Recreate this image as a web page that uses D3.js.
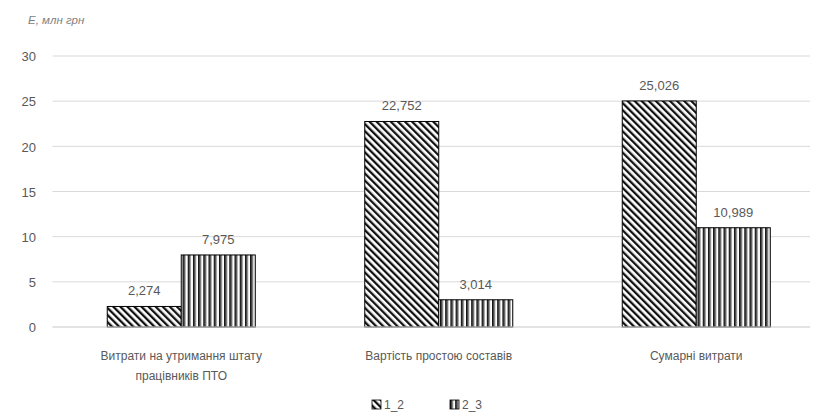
<!DOCTYPE html>
<html>
<head>
<meta charset="utf-8">
<script src="https://cdn.jsdelivr.net/npm/d3@7/dist/d3.min.js"></script>
<style>
  html, body { margin: 0; padding: 0; background: #fff; }
  svg { display: block; font-family: "Liberation Sans", Arial, sans-serif; }
</style>
</head>
<body>
<svg id="chart" width="814" height="414"></svg>
<script>
// Cost categories (two-line labels) and the two scenario series
const categories = [
  ["Витрати на утримання штату", "працівників ПТО"],
  ["Вартість простою составів"],
  ["Сумарні витрати"]
];
const seriesNames = ["1_2", "2_3"];
const values12 = [2.274, 22.752, 25.026];
const values23 = [7.975, 3.014, 10.989];
const yTicks = [0, 5, 10, 15, 20, 25, 30];
const yTitle = "Е, млн грн";

const svg = d3.select("#chart");
const margin = { left: 52.5, right: 825, top: 56, bottom: 327 };

// Fill patterns: wide downward diagonal and dark vertical stripes
const defs = svg.append("defs");
const diag = defs.append("pattern")
  .attr("id", "pat-diag").attr("patternUnits", "userSpaceOnUse")
  .attr("width", 5).attr("height", 5)
  .attr("patternTransform", "rotate(-45)");
diag.append("rect").attr("width", 5).attr("height", 5).attr("fill", "#fff");
diag.append("rect").attr("x", 0).attr("width", 2.3).attr("height", 5).attr("fill", "#111");

const vert = defs.append("pattern")
  .attr("id", "pat-vert").attr("patternUnits", "userSpaceOnUse")
  .attr("width", 5.2).attr("height", 10);
vert.append("rect").attr("width", 5.2).attr("height", 10).attr("fill", "#fff");
vert.append("rect").attr("x", 0).attr("width", 1.6).attr("height", 10).attr("fill", "#111");
vert.append("rect").attr("x", 1.6).attr("width", 1.4).attr("height", 10).attr("fill", "#666");

const fills = ["url(#pat-diag)", "url(#pat-vert)"];

const x0 = d3.scaleBand().domain(d3.range(categories.length))
  .range([margin.left, margin.right]).paddingInner(0).paddingOuter(0);
const bandW = x0.bandwidth();
const barW = 74;
const x1 = d3.scaleBand().domain(seriesNames)
  .range([bandW / 2 - barW, bandW / 2 + barW]);
const y = d3.scaleLinear().domain([0, 30]).range([margin.bottom, margin.top]);

// Horizontal gridlines
svg.append("g").selectAll("line").data(yTicks).join("line")
  .attr("x1", margin.left).attr("x2", 810)
  .attr("y1", d => y(d)).attr("y2", d => y(d))
  .attr("stroke", "#d9d9d9").attr("stroke-width", 1);

// Y axis tick labels
const yAxis = d3.axisLeft(y).tickValues(yTicks).tickSize(0).tickPadding(0);
const gy = svg.append("g").attr("transform", "translate(36,0)").call(yAxis);
gy.select(".domain").remove();
gy.selectAll("text").attr("fill", "#595959").attr("font-size", 13)
  .attr("font-family", "'Liberation Sans', Arial, sans-serif")
  .attr("dy", "0.36em");

// Axis title
svg.append("text").attr("x", 28).attr("y", 24)
  .attr("font-size", 11.5).attr("font-style", "italic").attr("fill", "#7f7f7f")
  .attr("font-family", "'Liberation Sans', Arial, sans-serif")
  .text(yTitle);

const series = [values12, values23];
const groups = svg.append("g").selectAll("g").data(categories).join("g")
  .attr("transform", (d, i) => `translate(${x0(i)},0)`);

groups.each(function (cat, i) {
  const g = d3.select(this);
  seriesNames.forEach((s, k) => {
    const v = series[k][i];
    g.append("rect")
      .attr("x", x1(s)).attr("width", x1.bandwidth())
      .attr("y", y(v)).attr("height", y(0) - y(v))
      .attr("fill", fills[k]).attr("stroke", "#000").attr("stroke-width", 1);
    g.append("text")
      .attr("x", x1(s) + x1.bandwidth() / 2).attr("y", y(v) - 11)
      .attr("text-anchor", "middle").attr("font-size", 13).attr("fill", "#595959")
      .text(d3.format(",.3f")(v).replace(".", ","));
  });
});

// Baseline
svg.append("line").attr("x1", margin.left).attr("x2", 810)
  .attr("y1", y(0)).attr("y2", y(0)).attr("stroke", "#d9d9d9");

// Category labels
groups.append("text")
  .attr("x", bandW / 2).attr("y", 360)
  .attr("text-anchor", "middle").attr("font-size", 12).attr("fill", "#595959")
  .selectAll("tspan").data(d => d).join("tspan")
  .attr("x", bandW / 2).attr("dy", (d, j) => j === 0 ? 0 : 20)
  .text(d => d);

// Legend
const legendX = [372, 450];
const legend = svg.append("g").selectAll("g").data(seriesNames).join("g")
  .attr("transform", (d, i) => `translate(${legendX[i]},400)`);
legend.append("rect").attr("width", 9).attr("height", 9)
  .attr("fill", (d, i) => fills[i]).attr("stroke", "#000").attr("stroke-width", 0.8);
legend.append("text").attr("x", 12).attr("y", 9)
  .attr("font-size", 12).attr("fill", "#595959")
  .text(d => d);
</script>
</body>
</html>
